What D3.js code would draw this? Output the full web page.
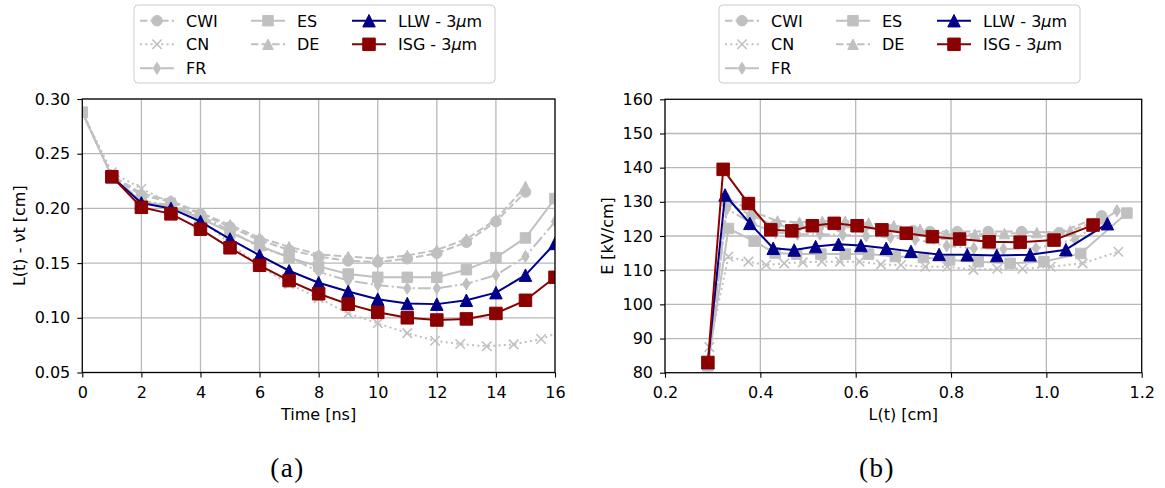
<!DOCTYPE html>
<html><head><meta charset="utf-8">
<script src="https://cdn.jsdelivr.net/npm/d3@7"></script>
<style>
body{margin:0;background:#fff}
text{font-family:"DejaVu Sans",sans-serif}
text.cap{font-family:"Liberation Serif","DejaVu Serif",serif}
</style>
</head><body>
<svg id="c" width="1165" height="488" xmlns="http://www.w3.org/2000/svg"></svg>
<script>
// ---------------- DATA ----------------
const timeSteps = [0,1,2,3,4,5,6,7,8,9,10,11,12,13,14,15,16];
const cnTimes   = [0,1,2,3,4,5,6,7,8,9,10,11,11.94,12.79,13.69,14.6,15.53,16.45];

// panel (a): L(t) - vt [cm]
const lenCWI = [0.288,0.229,0.212,0.206,0.195,0.183,0.171,0.162,0.156,0.152,0.151,0.154,0.159,0.169,0.188,0.215];
const lenCN  = [0.288,0.233,0.218,0.205,0.190,0.168,0.147,0.131,0.118,0.104,0.095,0.086,0.079,0.076,0.074,0.0757,0.0806,0.090];
const lenFR  = [0.288,0.229,0.207,0.203,0.193,0.180,0.164,0.156,0.142,0.134,0.130,0.127,0.127,0.131,0.139,0.156,0.188];
const lenES  = [0.288,0.229,0.206,0.202,0.191,0.178,0.166,0.155,0.147,0.140,0.137,0.137,0.137,0.144,0.155,0.173,0.209];
const lenDE  = [0.288,0.230,0.214,0.207,0.196,0.185,0.173,0.165,0.158,0.156,0.154,0.157,0.162,0.172,0.190,0.220];
const lenLLW = [0.229,0.205,0.200,0.188,0.172,0.157,0.143,0.132,0.124,0.117,0.113,0.1125,0.116,0.123,0.139,0.168];
const lenISG = [0.229,0.201,0.195,0.181,0.164,0.148,0.134,0.122,0.1125,0.105,0.100,0.098,0.099,0.104,0.116,0.137];

// panel (b): E [kV/cm] vs L(t) [cm]
const posCWI = [0.290,0.330,0.382,0.430,0.476,0.522,0.568,0.616,0.666,0.720,0.756,0.813,0.878,0.948,1.027,1.116];
const fldCWI = [82.5,129.5,126.0,123.0,122.6,122.6,122.6,122.4,122.0,121.6,121.3,121.3,121.3,121.3,121.0,125.9];
const posCN  = [0.293,0.333,0.375,0.412,0.450,0.489,0.529,0.567,0.608,0.653,0.695,0.746,0.792,0.847,0.897,0.950,1.009,1.076,1.151];
const fldCN  = [87.5,114.0,112.5,111.5,112.0,112.3,112.5,112.5,112.5,111.7,111.5,111.0,111.0,110.1,110.4,110.4,111.0,112.0,115.4];
const posFR  = [0.290,0.330,0.384,0.432,0.478,0.525,0.573,0.622,0.673,0.725,0.791,0.848,0.910,0.978,1.060,1.148];
const fldFR  = [82.0,128.0,123.5,121.0,120.5,120.5,120.3,120.0,119.6,119.0,117.1,116.4,116.2,116.4,119.0,127.4];
const posES  = [0.290,0.333,0.387,0.431,0.476,0.527,0.578,0.627,0.683,0.742,0.797,0.857,0.924,0.995,1.072,1.169];
const fldES  = [82.0,122.2,118.5,115.0,114.7,114.7,114.7,114.7,114.0,113.7,113.0,112.5,112.0,112.5,114.9,126.7];
const posDE  = [0.290,0.332,0.386,0.436,0.482,0.530,0.578,0.627,0.680,0.735,0.790,0.850,0.912,0.980,1.050,1.120];
const fldDE  = [82.5,131.0,127.0,124.4,124.0,124.3,124.3,123.8,123.0,122.0,120.5,120.5,120.7,121.0,121.5,125.0];
const posLLW = [0.290,0.326,0.378,0.427,0.471,0.516,0.564,0.611,0.664,0.716,0.775,0.834,0.896,0.966,1.041,1.128];
const fldLLW = [83.0,132.0,123.7,116.4,115.9,116.9,117.6,117.2,116.4,115.5,114.6,114.5,114.3,114.5,116.0,123.6];
const posISG = [0.290,0.322,0.375,0.422,0.466,0.509,0.555,0.603,0.655,0.706,0.761,0.818,0.880,0.945,1.016,1.098];
const fldISG = [83.0,139.5,129.5,121.8,121.5,123.0,123.7,123.0,121.8,120.8,119.8,119.1,118.3,118.2,118.8,123.2];

// axes ticks
const ticksA_x = [0,2,4,6,8,10,12,14,16];
const ticksA_y = [0.05,0.10,0.15,0.20,0.25,0.30];
const ticksB_x = [0.2,0.4,0.6,0.8,1.0,1.2];
const ticksB_y = [80,90,100,110,120,130,140,150,160];

const seriesNames = ["CWI","CN","FR","ES","DE","LLW","ISG"];

// ---------------- STYLES ----------------
const GRAY = "#c0c0c0";
const styles = {
  CWI:{color:GRAY, dash:"7.4,3.2", marker:"circle", ms:10.5},
  CN: {color:GRAY, dash:"2,3.3", marker:"x", ms:9.5},
  FR: {color:GRAY, dash:"12.8,3.2,2,3.2", marker:"diamond", ms:12},
  ES: {color:GRAY, dash:null, marker:"square", ms:10.5},
  DE: {color:GRAY, dash:"7.4,3.2", marker:"triangle", ms:10.5},
  LLW:{color:"#00008b", dash:null, marker:"triangle", ms:12.5},
  ISG:{color:"#8b0000", dash:null, marker:"square", ms:12.5}
};

const dataA = {
  CWI:{x:timeSteps.slice(0,lenCWI.length), y:lenCWI},
  CN: {x:cnTimes, y:lenCN},
  FR: {x:timeSteps, y:lenFR},
  ES: {x:timeSteps, y:lenES},
  DE: {x:timeSteps.slice(0,lenDE.length), y:lenDE},
  LLW:{x:timeSteps.slice(1), y:lenLLW},
  ISG:{x:timeSteps.slice(1), y:lenISG}
};
const dataB = {
  CWI:{x:posCWI,y:fldCWI}, CN:{x:posCN,y:fldCN}, FR:{x:posFR,y:fldFR},
  ES:{x:posES,y:fldES}, DE:{x:posDE,y:fldDE}, LLW:{x:posLLW,y:fldLLW}, ISG:{x:posISG,y:fldISG}
};

function markerPath(type, s){
  const h=s/2;
  switch(type){
    case "circle": return `M${-h},0A${h},${h} 0 1,0 ${h},0A${h},${h} 0 1,0 ${-h},0Z`;
    case "square": return `M${-h},${-h}H${h}V${h}H${-h}Z`;
    case "triangle": return `M0,${-h}L${h},${h}L${-h},${h}Z`;
    case "diamond": return `M0,${-h}L${h*0.62},0L0,${h}L${-h*0.62},0Z`;
    case "x": return `M${-h},${-h}L${h},${h}M${-h},${h}L${h},${-h}`;
  }
}
function drawMarker(g, type, s, color, x, y){
  const p = g.append("path").attr("d", markerPath(type,s)).attr("transform",`translate(${x},${y})`);
  if(type==="x") p.attr("fill","none").attr("stroke",color).attr("stroke-width",1.6);
  else p.attr("fill",color).attr("stroke",color).attr("stroke-width",1);
}

const svg = d3.select("#c");
svg.append("rect").attr("width",1165).attr("height",488).attr("fill","#fff");

function panel(cfg){
  const {xs, ys, xticks, yticks, xfmt, yfmt, data, id} = cfg;
  const [x0,x1] = xs.range(), [y0,y1] = ys.range(); // y0 bottom
  const g = svg.append("g");
  svg.append("clipPath").attr("id",id).append("rect")
    .attr("x",x0).attr("y",y1).attr("width",x1-x0).attr("height",y0-y1);
  // grid
  const grid = g.append("g").attr("stroke","#b8b8b8").attr("stroke-width",1.3);
  xticks.forEach(t=>grid.append("line").attr("x1",xs(t)).attr("x2",xs(t)).attr("y1",y1).attr("y2",y0));
  yticks.forEach(t=>grid.append("line").attr("y1",ys(t)).attr("y2",ys(t)).attr("x1",x0).attr("x2",x1));
  // series
  const plot = g.append("g").attr("clip-path",`url(#${id})`);
  seriesNames.forEach(n=>{
    const st = styles[n], d = data[n];
    const pts = d.x.map((v,i)=>[xs(v), ys(d.y[i])]);
    plot.append("path").attr("d", d3.line()(pts)).attr("fill","none")
      .attr("stroke",st.color).attr("stroke-width",2)
      .attr("stroke-dasharray",st.dash).attr("stroke-linejoin","round");
    pts.forEach(p=>drawMarker(plot, st.marker, st.ms, st.color, p[0], p[1]));
  });
  // axes
  const ax = g.append("g").attr("transform",`translate(0,${y0})`)
    .call(d3.axisBottom(xs).tickValues(xticks).tickFormat(xfmt).tickSizeOuter(0).tickSize(5).tickPadding(9));
  const ay = g.append("g").attr("transform",`translate(${x0},0)`)
    .call(d3.axisLeft(ys).tickValues(yticks).tickFormat(yfmt).tickSizeOuter(0).tickSize(5).tickPadding(7));
  [ax,ay].forEach(a=>{
    a.select(".domain").remove();
    a.selectAll("text").attr("font-size",16).attr("font-family","DejaVu Sans").attr("fill","#000");
    a.selectAll("line").attr("stroke","#000").attr("stroke-width",1.1);
  });
  // frame
  g.append("rect").attr("x",x0).attr("y",y1).attr("width",x1-x0).attr("height",y0-y1)
    .attr("fill","none").attr("stroke","#000").attr("stroke-width",1.2);
}

const xA = d3.scaleLinear([0,16],[82.3,555]);
const yA = d3.scaleLinear([0.05,0.30],[372.5,99]);
const xB = d3.scaleLinear([0.2,1.2],[665,1141.7]);
const yB = d3.scaleLinear([80,160],[372.7,99.3]);

panel({xs:xA, ys:yA, xticks:ticksA_x, yticks:ticksA_y, xfmt:d3.format("d"), yfmt:d3.format(".2f"), data:dataA, id:"clipA"});
panel({xs:xB, ys:yB, xticks:ticksB_x, yticks:ticksB_y, xfmt:d3.format(".1f"), yfmt:d3.format("d"), data:dataB, id:"clipB"});

// axis labels
svg.append("text").attr("x",318.6).attr("y",419.5).attr("text-anchor","middle").attr("font-size",16).text("Time [ns]");
svg.append("text").attr("x",903.3).attr("y",419.5).attr("text-anchor","middle").attr("font-size",16).text("L(t) [cm]");
svg.append("text").attr("transform","translate(25,235.7) rotate(-90)").attr("text-anchor","middle").attr("font-size",16).text("L(t) - νt [cm]");
svg.append("text").attr("transform","translate(613,236) rotate(-90)").attr("text-anchor","middle").attr("font-size",16).text("E [kV/cm]");

// sub captions
[["(a)",287.5],["(b)",877]].forEach(([t,x])=>{
  svg.append("text").attr("class","cap").attr("x",x).attr("y",476.5).attr("text-anchor","middle")
    .style("font-family","'Liberation Serif','DejaVu Serif',serif").attr("font-size",27).attr("letter-spacing",1.5).text(t);
});

// legends
function legend(ox){
  const g = svg.append("g").attr("transform",`translate(${ox},0)`);
  g.append("rect").attr("x",0).attr("y",5).attr("width",361).attr("height",78).attr("rx",4)
    .attr("fill","#fff").attr("fill-opacity",0.8).attr("stroke","#cccccc").attr("stroke-width",1);
  const layout = [
    ["CWI",6,20.7],["CN",6,44.3],["FR",6,68.3],
    ["ES",117,20.7],["DE",117,44.3],
    ["LLW",218,20.7],["ISG",218,44.3]
  ];
  const labels = {CWI:"CWI",CN:"CN",FR:"FR",ES:"ES",DE:"DE"};
  layout.forEach(([n,hx,cy])=>{
    const st = styles[n];
    g.append("line").attr("x1",hx).attr("x2",hx+34).attr("y1",cy).attr("y2",cy)
      .attr("stroke",st.color).attr("stroke-width",2).attr("stroke-dasharray",st.dash);
    drawMarker(g, st.marker, st.ms, st.color, hx+17, cy);
    const t = g.append("text").attr("x",hx+46).attr("y",cy+5.8).attr("font-size",16);
    if(labels[n]) t.text(labels[n]);
    else {
      t.append("tspan").text(n+" - 3");
      t.append("tspan").attr("font-style","italic").text("μ");
      t.append("tspan").text("m");
    }
  });
}
legend(134);
legend(719);
</script>
</body></html>
